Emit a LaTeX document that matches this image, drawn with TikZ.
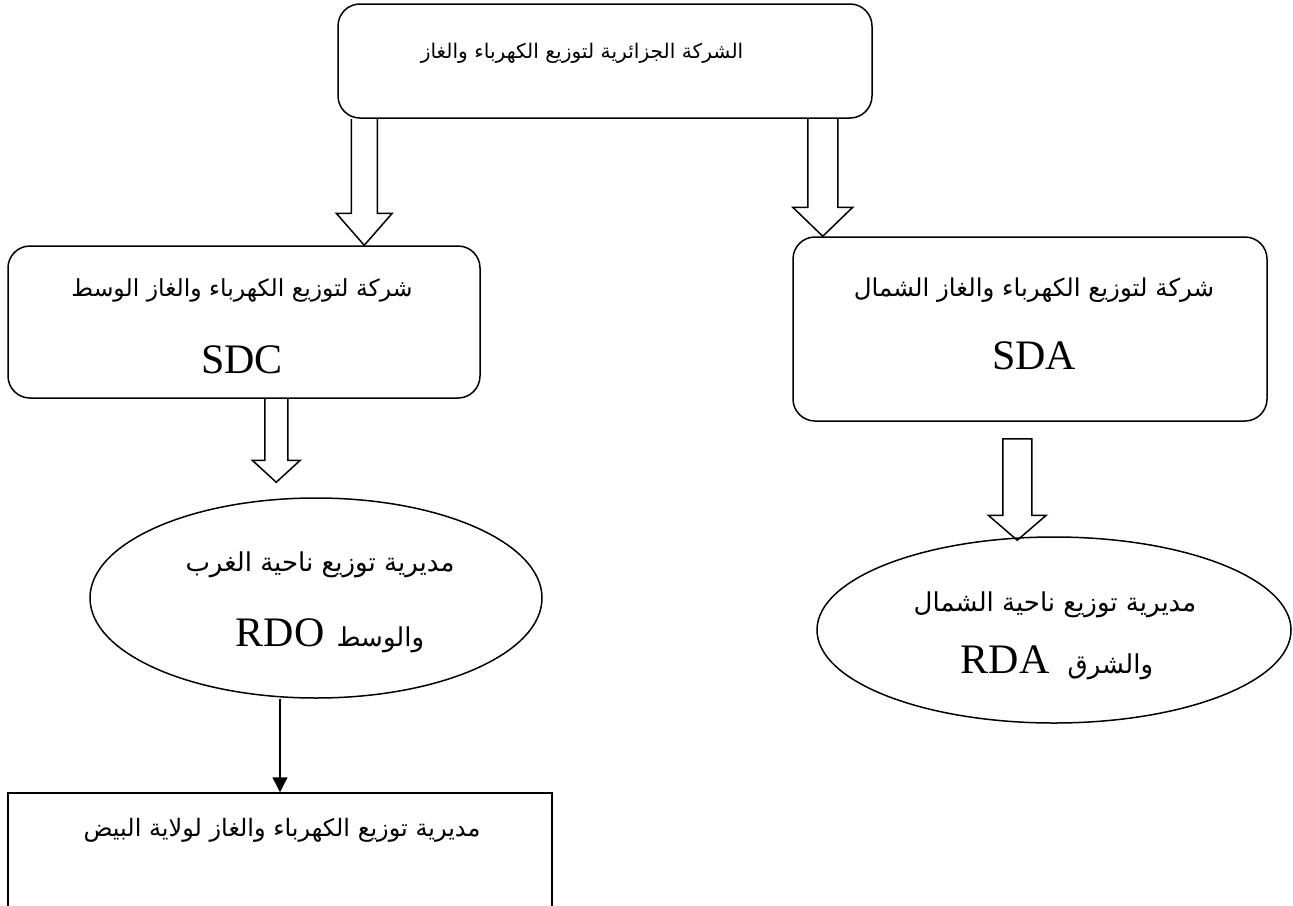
\documentclass[tikz,border=0pt]{standalone}
\usepackage{fontspec}
\setmainfont{Liberation Serif}
\newfontfamily\arabicfont[Script=Arabic]{DejaVu Sans}
\TeXXeTstate=1
\usetikzlibrary{shapes.geometric,calc,arrows.meta}
\newcommand{\arsz}[1]{\arabicfont\fontsize{#1}{#1}\selectfont}
\newcommand{\lasz}{\fontsize{42}{46}\selectfont}
\newcommand{\hollowarrow}[5]{%
  \draw[blockline] let \p1=(#1), \p2=(#2) in
    (\x1-#3pt,\y1) -- (\x1-#3pt,\y2+#5pt) -- (\x1-#4pt,\y2+#5pt) -- (\x1,\y2)
    -- (\x1+#4pt,\y2+#5pt) -- (\x1+#3pt,\y2+#5pt) -- (\x1+#3pt,\y1);}
\newcommand{\hollowarrowclosed}[5]{%
  \draw[blockline] let \p1=(#1), \p2=(#2) in
    (\x1-#3pt,\y1) -- (\x1-#3pt,\y2+#5pt) -- (\x1-#4pt,\y2+#5pt) -- (\x1,\y2)
    -- (\x1+#4pt,\y2+#5pt) -- (\x1+#3pt,\y2+#5pt) -- (\x1+#3pt,\y1) -- cycle;}
\begin{document}
\begin{tikzpicture}[x=1pt,y=-1pt,
  rbox/.style={draw, line width=1.5pt, rounded corners=22pt, inner sep=0pt},
  sbox/.style={draw, line width=1.5pt, inner sep=0pt},
  ebox/.style={draw, ellipse, line width=1.5pt, inner sep=0pt},
  blockline/.style={line width=1.5pt, line join=miter},
  txt/.style={inner sep=0pt, anchor=center},
  linearrow/.style={line width=1.5pt, -{Triangle[length=15pt,width=15pt]}}]
\useasboundingbox (0,0) rectangle (1293,905);
\fill[white] (0,0) rectangle (1293,905);

% boxes
\node[rbox, minimum width=534pt, minimum height=114pt] (top) at (605,61) {};
\node[rbox, minimum width=472pt, minimum height=152pt] (sdc) at (244,322) {};
\node[rbox, minimum width=474pt, minimum height=184pt] (sda) at (1030,329) {};
\node[ebox, minimum width=452pt, minimum height=200pt] (rdo) at (316,598) {};
\node[ebox, minimum width=474pt, minimum height=186pt] (rda) at (1054,630) {};
\node[sbox, minimum width=544pt, minimum height=140pt] (bot) at (280,863) {};

% texts
\node[txt] (t0) at (582,53) {\arsz{20.2}\beginR الشركة الجزائرية لتوزيع الكهرباء والغاز\endR};
\node[txt] (t1a) at (242,290) {\arsz{23.5}\beginR شركة لتوزيع الكهرباء والغاز الوسط\endR};
\node[txt] (t1b) at (242,360) {\lasz SDC};
\node[txt] (t2a) at (1034,290) {\arsz{24.5}\beginR شركة لتوزيع الكهرباء والغاز الشمال\endR};
\node[txt] (t2b) at (1034,356) {\lasz SDA};
\node[txt] (t3a) at (320,565) {\arsz{26}\beginR مديرية توزيع ناحية الغرب\endR};
\node[txt] (t3b) at (330,636) {\beginR{\arsz{26}والوسط}\hspace{12pt}\beginL{\lasz RDO}\endL\endR};
\node[txt] (t4a) at (1055,605) {\arsz{26}\beginR مديرية توزيع ناحية الشمال\endR};
\node[txt] (t4b) at (1057,663) {\beginR{\arsz{26}والشرق}\hspace{18pt}\beginL{\lasz RDA}\endL\endR};
\node[txt] (t5) at (282,830) {\arsz{24}\beginR مديرية توزيع  الكهرباء والغاز لولاية البيض\endR};

% connectors
\coordinate (a1s) at ($(top.south west)+(27,0)$);
\coordinate (a1e) at (a1s |- sdc.north);
\hollowarrow{a1s}{a1e}{13}{28}{32}

\coordinate (a2s) at ($(top.south east)+(-50,0)$);
\coordinate (a2e) at (a2s |- sda.north);
\hollowarrow{a2s}{a2e}{15}{30}{29}

\coordinate (a3s) at ($(sdc.south west)+(269,0)$);
\coordinate (a3e) at ($(a3s |- rdo.north)+(0,-15)$);
\hollowarrow{a3s}{a3e}{11.5}{24}{22}

\coordinate (a4s) at ($(sda.south west)+(225,17)$);
\coordinate (a4e) at ($(a4s |- rda.north)+(0,4)$);
\hollowarrowclosed{a4s}{a4e}{14.5}{29}{25}

\coordinate (a5s) at ($(rdo.south)+(-36,0)$);
\draw[linearrow] (a5s) -- (a5s |- bot.north);
\end{tikzpicture}
\end{document}
